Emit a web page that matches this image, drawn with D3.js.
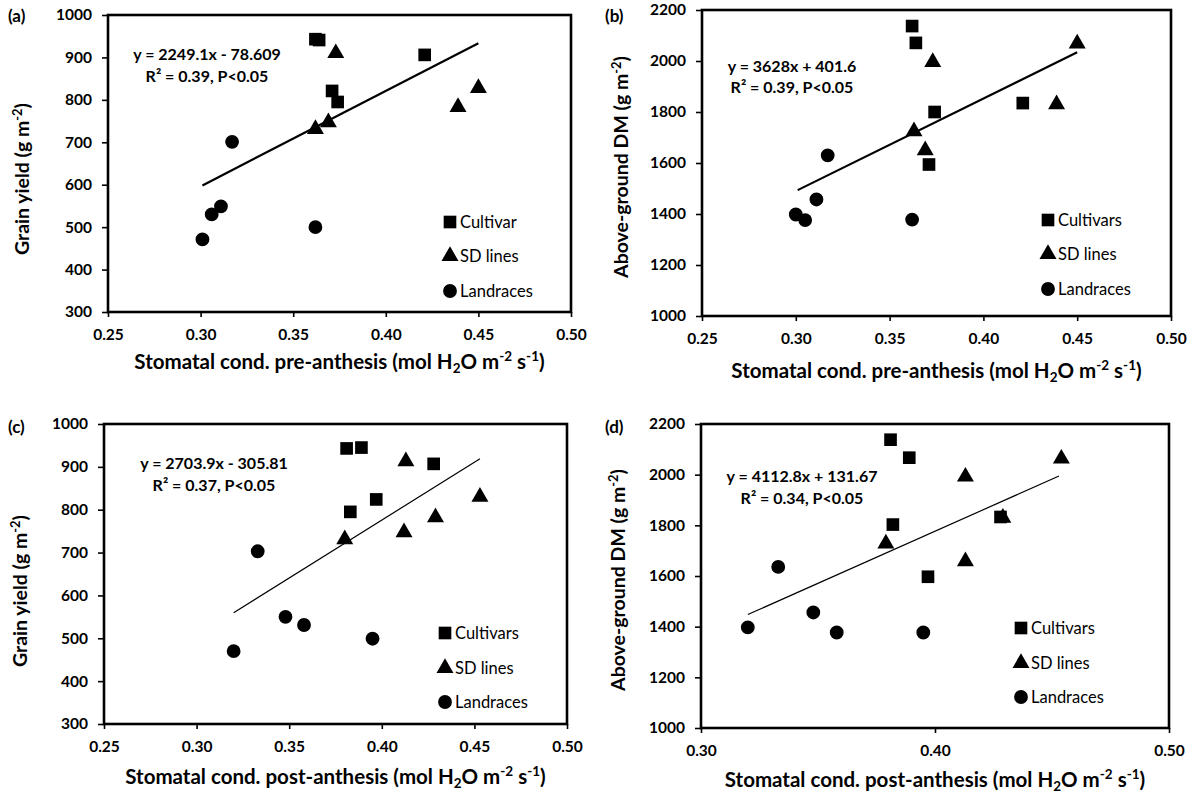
<!DOCTYPE html>
<html>
<head>
<meta charset="utf-8">
<script src="https://cdn.jsdelivr.net/npm/d3@7"></script>
<style>
  body { margin: 0; background: #fff; }
  svg { display: block; }
  text { font-family: Lato, "Open Sans", sans-serif; fill: #000; }
</style>
</head>
<body>
<svg></svg>
<script>
const width = 1189;
const height = 795;

// (a) grain yield vs stomatal conductance pre-anthesis
const aCultivar = [[0.362, 943], [0.364, 941], [0.421, 906], [0.371, 821], [0.374, 795]];
const aSdLines = [[0.373, 910], [0.450, 828], [0.439, 783], [0.369, 747], [0.362, 731]];
const aLandraces = [[0.317, 701], [0.311, 549], [0.306, 530], [0.301, 471], [0.362, 500]];

// (b) above-ground DM vs stomatal conductance pre-anthesis
const bCultivar = [[0.362, 2137], [0.364, 2071], [0.421, 1835], [0.374, 1800], [0.371, 1594]];
const bSdLines = [[0.450, 2068], [0.373, 1996], [0.439, 1830], [0.363, 1724], [0.369, 1650]];
const bLandraces = [[0.317, 1630], [0.311, 1457], [0.300, 1398], [0.305, 1376], [0.362, 1378]];

// (c) grain yield vs stomatal conductance post-anthesis
const cCultivar = [[0.381, 943], [0.389, 945], [0.428, 907], [0.397, 824], [0.383, 795]];
const cSdLines = [[0.413, 913], [0.453, 830], [0.429, 782], [0.412, 747], [0.380, 731]];
const cLandraces = [[0.333, 703], [0.348, 550], [0.358, 531], [0.320, 470], [0.395, 499]];

// (d) above-ground DM vs stomatal conductance post-anthesis
const dCultivar = [[0.381, 2138], [0.389, 2067], [0.428, 1833], [0.382, 1803], [0.397, 1597]];
const dSdLines = [[0.454, 2063], [0.413, 1992], [0.429, 1830], [0.379, 1728], [0.413, 1658]];
const dLandraces = [[0.333, 1636], [0.348, 1456], [0.320, 1397], [0.358, 1377], [0.395, 1377]];

// fitted lines: slope, intercept, x range
const aFit = [2249.1, -78.609, 0.301, 0.450];
const bFit = [3628, 401.6, 0.301, 0.450];
const cFit = [2703.9, -305.81, 0.320, 0.453];
const dFit = [4112.8, 131.67, 0.320, 0.453];

const preTicks = [0.25, 0.30, 0.35, 0.40, 0.45, 0.50];
const postTicksD = [0.30, 0.40, 0.50];
const yieldTicks = [300, 400, 500, 600, 700, 800, 900, 1000];
const dmTicks = [1000, 1200, 1400, 1600, 1800, 2000, 2200];

const yieldTitle = [{ t: 'Grain yield (g m' }, { t: '-2', sup: true }, { t: ')' }];
const dmTitle = [{ t: 'Above-ground DM (g m' }, { t: '-2', sup: true }, { t: ')' }];
const dmTitleD = [{ t: 'Above-ground DM  (g m' }, { t: '-2', sup: true }, { t: ')' }];
const preTitle = [{ t: 'Stomatal cond. pre-anthesis (mol H' }, { t: '2', sub: true }, { t: 'O m' }, { t: '-2', sup: true }, { t: ' s' }, { t: '-1', sup: true }, { t: ')' }];
const postTitle = [{ t: 'Stomatal cond. post-anthesis (mol H' }, { t: '2', sub: true }, { t: 'O m' }, { t: '-2', sup: true }, { t: ' s' }, { t: '-1', sup: true }, { t: ')' }];

const svg = d3.select('svg')
  .attr('width', width)
  .attr('height', height)

const panels = [
  {
    label: '(a)', lx: 8, ly: 22,
    box: { x0: 108, x1: 571, y0: 15, y1: 312 },
    xDomain: [0.25, 0.50], xTicks: preTicks, yDomain: [300, 1000], yTicks: yieldTicks,
    series: [aCultivar, aSdLines, aLandraces], fit: aFit, fitWidth: 2.2,
    eq: ['y = 2249.1x - 78.609', 'R² = 0.39, P<0.05'], eqX: 207, eqY: [60, 82],
    legend: ['Cultivar', 'SD lines', 'Landraces'], legX: 450, legY: [222, 256, 291],
    yTitle: yieldTitle, yTitleX: 29, yTitleY: 179, xTitle: preTitle, xTitleY: 369
  },
  {
    label: '(b)', lx: 605, ly: 22,
    box: { x0: 702, x1: 1171, y0: 10, y1: 316 },
    xDomain: [0.25, 0.50], xTicks: preTicks, yDomain: [1000, 2200], yTicks: dmTicks,
    series: [bCultivar, bSdLines, bLandraces], fit: bFit, fitWidth: 2.2,
    eq: ['y = 3628x + 401.6', 'R² = 0.39, P<0.05'], eqX: 792, eqY: [72, 93],
    legend: ['Cultivars', 'SD lines', 'Landraces'], legX: 1048, legY: [220, 254, 289],
    yTitle: dmTitle, yTitleX: 628, yTitleY: 167, xTitle: preTitle, xTitleY: 378
  },
  {
    label: '(c)', lx: 8, ly: 433,
    box: { x0: 104, x1: 567, y0: 424, y1: 724 },
    xDomain: [0.25, 0.50], xTicks: preTicks, yDomain: [300, 1000], yTicks: yieldTicks,
    series: [cCultivar, cSdLines, cLandraces], fit: cFit, fitWidth: 1.2,
    eq: ['y = 2703.9x - 305.81', 'R² = 0.37, P<0.05'], eqX: 214, eqY: [469, 491],
    legend: ['Cultivars', 'SD lines', 'Landraces'], legX: 445, legY: [633, 668, 702],
    yTitle: yieldTitle, yTitleX: 27, yTitleY: 591, xTitle: postTitle, xTitleY: 784
  },
  {
    label: '(d)', lx: 605, ly: 433,
    box: { x0: 701, x1: 1169, y0: 424, y1: 728 },
    xDomain: [0.30, 0.50], xTicks: postTicksD, yDomain: [1000, 2200], yTicks: dmTicks,
    series: [dCultivar, dSdLines, dLandraces], fit: dFit, fitWidth: 1.2,
    eq: ['y = 4112.8x + 131.67', 'R² = 0.34, P<0.05'], eqX: 802, eqY: [482, 504],
    legend: ['Cultivars', 'SD lines', 'Landraces'], legX: 1021, legY: [628, 663, 697],
    yTitle: dmTitleD, yTitleX: 625, yTitleY: 580, xTitle: postTitle, xTitleY: 787
  }
]

const symbols = [
  d3.symbol().type(d3.symbolSquare).size(160),
  d3.symbol().type(d3.symbolTriangle).size(125),
  d3.symbol().type(d3.symbolCircle).size(150)
]

// append text pieces with super/subscripts
function richText(sel, parts, size) {
  let shift = 0
  parts.forEach(p => {
    const target = p.sup ? -0.38 * size : p.sub ? 0.2 * size : 0
    sel.append('tspan')
      .attr('dy', target - shift)
      .attr('font-size', p.sup || p.sub ? size * 0.66 : size)
      .text(p.t)
    shift = target
  })
}

panels.forEach(p => {
  const x = d3.scaleLinear().domain(p.xDomain).range([p.box.x0, p.box.x1])
  const y = d3.scaleLinear().domain(p.yDomain).range([p.box.y1, p.box.y0])
  const g = svg.append('g')

  const xAxis = g.append('g')
    .attr('transform', `translate(0,${p.box.y1})`)
    .call(d3.axisBottom(x).tickValues(p.xTicks).tickFormat(d3.format('.2f')).tickSize(5).tickPadding(12))
  const yAxis = g.append('g')
    .attr('transform', `translate(${p.box.x0},0)`)
    .call(d3.axisLeft(y).tickValues(p.yTicks).tickFormat(d3.format('d')).tickSize(6).tickPadding(10))

  ;[xAxis, yAxis].forEach(ax => {
    ax.select('.domain').remove()
    ax.selectAll('line').attr('stroke', '#000').attr('stroke-width', 1.6)
    ax.selectAll('text')
      .attr('font-size', 15.5)
      .attr('font-weight', 'bold')
      .attr('fill', '#000')
  })

  g.append('rect')
    .attr('x', p.box.x0)
    .attr('y', p.box.y0)
    .attr('width', p.box.x1 - p.box.x0)
    .attr('height', p.box.y1 - p.box.y0)
    .attr('fill', 'none')
    .attr('stroke', '#000')
    .attr('stroke-width', 2.6)

  // trendline
  const [m, b, fx0, fx1] = p.fit
  g.append('line')
    .attr('x1', x(fx0)).attr('y1', y(m * fx0 + b))
    .attr('x2', x(fx1)).attr('y2', y(m * fx1 + b))
    .attr('stroke', '#000')
    .attr('stroke-width', p.fitWidth)

  p.series.forEach((pts, i) => {
    g.selectAll(null)
      .data(pts)
      .join('path')
      .attr('d', symbols[i])
      .attr('fill', '#000')
      .attr('transform', d => `translate(${x(d[0])},${y(d[1])})`)
  })

  // equation
  p.eq.forEach((t, i) => {
    g.append('text')
      .attr('x', p.eqX)
      .attr('y', p.eqY[i])
      .attr('text-anchor', 'middle')
      .attr('font-size', 16)
      .attr('font-weight', 'bold')
      .text(t)
  })

  // legend
  p.legend.forEach((t, i) => {
    g.append('path')
      .attr('d', symbols[i])
      .attr('transform', `translate(${p.legX},${p.legY[i]})`)
      .attr('fill', '#000')
    g.append('text')
      .attr('x', p.legX + 10)
      .attr('y', p.legY[i])
      .attr('dy', '0.35em')
      .attr('font-size', 16.5)
      .text(t)
  })

  g.append('text')
    .attr('x', p.lx)
    .attr('y', p.ly)
    .attr('font-size', 17)
    .attr('font-weight', 'bold')
    .text(p.label)

  const yt = g.append('text')
    .attr('transform', `translate(${p.yTitleX},${p.yTitleY}) rotate(-90)`)
    .attr('text-anchor', 'middle')
    .attr('dy', '0.35em')
    .attr('font-weight', 'bold')
  richText(yt, p.yTitle, 19.5)

  const xt = g.append('text')
    .attr('x', (p.box.x0 + p.box.x1) / 2)
    .attr('y', p.xTitleY)
    .attr('text-anchor', 'middle')
    .attr('font-weight', 'bold')
  richText(xt, p.xTitle, 20.5)
})
</script>
</body>
</html>
